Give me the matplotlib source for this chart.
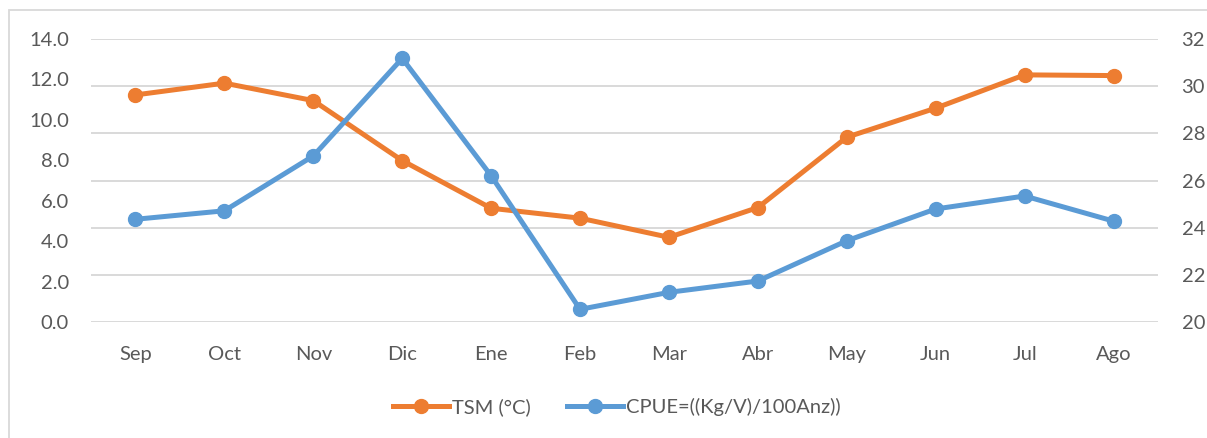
import matplotlib
matplotlib.use("Agg")
import matplotlib.pyplot as plt
from matplotlib.patches import Rectangle
from matplotlib.lines import Line2D

# monthly series, Sep..Ago
meses = ["Sep", "Oct", "Nov", "Dic", "Ene", "Feb", "Mar", "Abr", "May", "Jun", "Jul", "Ago"]
tsm = [29.63, 30.13, 29.39, 26.85, 24.83, 24.41, 23.60, 24.86, 27.84, 29.07, 30.48, 30.45]
cpue = [5.09, 5.51, 8.22, 13.04, 7.24, 0.64, 1.48, 2.04, 4.03, 5.60, 6.24, 5.00]

ticks_izq = [0, 2, 4, 6, 8, 10, 12, 14]
ticks_der = [20, 22, 24, 26, 28, 30, 32]

naranja = "#ED7D31"
azul = "#5B9BD5"
gris_texto = "#595959"
gris_rejilla = "#D9D9D9"

plt.rcParams["font.family"] = ["Lato", "DejaVu Sans"]

fig = plt.figure(figsize=(12.07, 4.38), dpi=100)
ax = fig.add_axes([0.0754, 0.2642, 0.884, 0.6468])
ax2 = ax.twinx()

x = range(len(meses))

# CPUE on the primary (left) axis, TSM on the secondary (right) axis
ax.plot(x, cpue, color=azul, lw=3.6, marker="o", ms=10, zorder=3)
ax2.plot(x, tsm, color=naranja, lw=3.6, marker="o", ms=10, zorder=3)

ax.set_xlim(-0.5, len(meses) - 0.5)
ax.set_ylim(0, 14)
ax2.set_ylim(20, 32)
ax.set_yticks(ticks_izq)
ax.set_yticklabels([f"{v:.1f}" for v in ticks_izq])
ax2.set_yticks(ticks_der)
ax2.set_yticklabels([str(v) for v in ticks_der])
ax.set_xticks(list(x))
ax.set_xticklabels(meses)

# gridlines follow the right-hand scale
ax2.grid(axis="y", color=gris_rejilla, lw=1.4)
ax2.set_axisbelow(True)
ax.set_zorder(ax2.get_zorder() + 1)
ax.patch.set_visible(False)

for a in (ax, ax2):
    for s in a.spines.values():
        s.set_visible(False)
    a.tick_params(length=0, labelsize=14.5, colors=gris_texto)
ax.tick_params(axis="y", pad=16)
ax2.tick_params(axis="y", pad=17)
ax.tick_params(axis="x", pad=17)

handles = [
    Line2D([], [], color=naranja, lw=3.6, marker="o", ms=10),
    Line2D([], [], color=azul, lw=3.6, marker="o", ms=10),
]
fig.legend(handles, ["TSM (°C)", "CPUE=((Kg/V)/100Anz))"], loc="center",
           bbox_to_anchor=(0.511, 1 - 407 / 438), ncol=2, frameon=False,
           fontsize=14.5, labelcolor=gris_texto, handlelength=2.8,
           handletextpad=0.15, columnspacing=1.8)

# light outer frame of the chart area
fig.patches.append(Rectangle((9 / 1207, -0.1), 1.2, 1.1 - 10 / 438,
                             transform=fig.transFigure, fill=False,
                             edgecolor=gris_rejilla, lw=1.3))

fig.savefig("out.png", dpi=100)
